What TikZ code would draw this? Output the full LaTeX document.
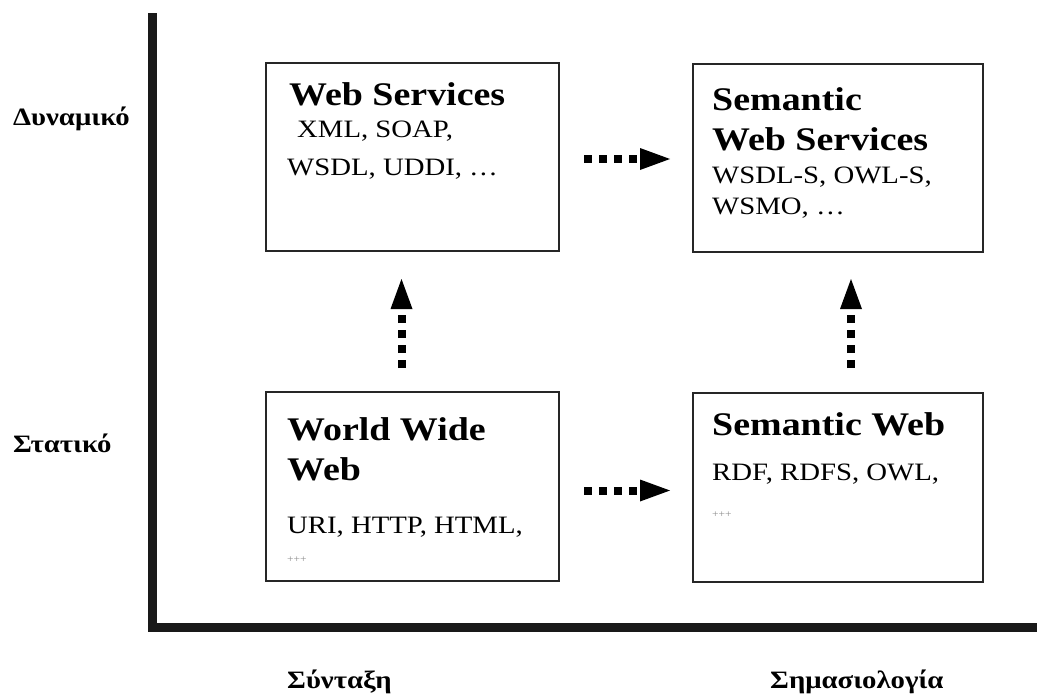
\documentclass[tikz,border=0pt]{standalone}
\usepackage{fontspec}
\setmainfont[FakeStretch=1.15]{Liberation Serif}
\usetikzlibrary{arrows.meta,calc}
\tikzset{
  box/.style={draw=black!85, line width=2pt, rectangle, inner sep=0pt},
  title/.style={anchor=base west, inner sep=0pt, font=\fontsize{33}{36}\selectfont\bfseries},
  body/.style={anchor=base west, inner sep=0pt, font=\fontsize{25}{28}\selectfont},
  tiny/.style={anchor=base west, inner sep=0pt, text=black!45, font=\fontsize{10}{12}\selectfont},
  glabel/.style={anchor=base west, inner sep=0pt, font=\fontsize{25}{28}\selectfont\bfseries},
  dotarrow/.style={line width=8pt, line cap=butt, dash pattern=on 8pt off 7pt,
    -{Triangle[length=30pt,width=22pt,line width=0pt]}},
  axis/.style={line width=9pt, line join=miter, draw=black!90}
}
\begin{document}
\begin{tikzpicture}[x=1pt,y=-1pt]
\useasboundingbox (0,0) rectangle (1037,696);
% axes
\coordinate (ytop) at (152,13);
\coordinate (origin) at (152,627);
\coordinate (xend) at (1037,627);
\draw[axis] (ytop) -- (origin) -- (xend);
% boxes
\node[box, minimum width=293pt, minimum height=188pt, anchor=north west] (ws) at (265,62) {};
\node[box, minimum width=290pt, minimum height=188pt, anchor=north west] (sws) at (692,63) {};
\node[box, minimum width=293pt, minimum height=189pt, anchor=north west] (www) at (265,391) {};
\node[box, minimum width=290pt, minimum height=189pt, anchor=north west] (sw) at (692,392) {};
% Web Services
\node[title] (wst) at (289,105) {Web Services};
\node[body] (wsa) at (297,137) {XML, SOAP,};
\node[body] (wsb) at (287,175) {WSDL, UDDI, …};
% Semantic Web Services
\node[title] (swst1) at (712,110) {Semantic};
\node[title] (swst2) at (712,150) {Web Services};
\node[body] (swsa) at (712,183) {WSDL-S, OWL-S,};
\node[body] (swsb) at (712,214) {WSMO, …};
% World Wide Web
\node[title] (wwwt1) at (287,440) {World Wide};
\node[title] (wwwt2) at (287,480) {Web};
\node[body] (wwwa) at (287,533) {URI, HTTP, HTML,};
\node[tiny] (wwwb) at (287,562) {+++};
% Semantic Web
\node[title] (swt) at (712,435) {Semantic Web};
\node[body] (swa) at (712,480) {RDF, RDFS, OWL,};
\node[tiny] (swb) at (712,517) {+++};
% axis labels
\node[glabel] (dyn) at (13,125) {Δυναμικό};
\node[glabel] (stat) at (13,452) {Στατικό};
\node[glabel] (synt) at (287,688) {Σύνταξη};
\node[glabel] (sem) at (770,688) {Σημασιολογία};
% arrows
\draw[dotarrow] ($(ws.east)+(24,2)$) -- ($(sws.west)+(-22,1)$);
\draw[dotarrow] ($(www.east)+(24,4)$) -- ($(sw.west)+(-22,3)$);
\draw[dotarrow] ($(www.north)+(-11,-23)$) -- ($(ws.south)+(-11,27)$);
\draw[dotarrow] ($(sw.north)+(13,-24)$) -- ($(sws.south)+(13,26)$);
\end{tikzpicture}
\end{document}
